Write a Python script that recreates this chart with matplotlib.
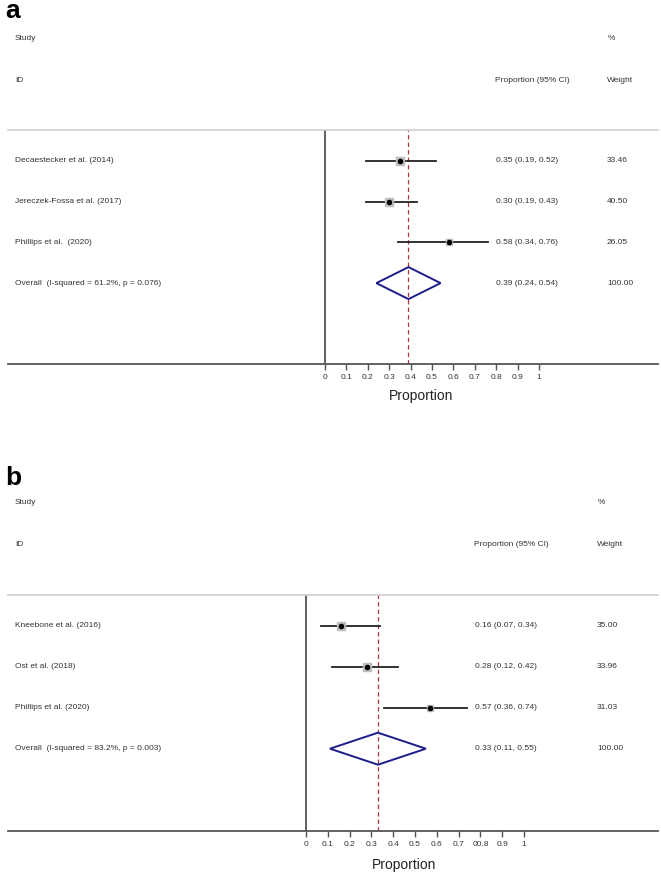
import matplotlib
matplotlib.use("Agg")
import matplotlib.pyplot as plt
from matplotlib.transforms import blended_transform_factory
from matplotlib.patches import Polygon

plt.rcParams['font.family'] = ['Liberation Sans', 'DejaVu Sans']

# ---- data ----
studies_a = ["Decaestecker et al. (2014)", "Jereczek-Fossa et al. (2017)", "Phillips et al.  (2020)"]
est_a = [0.35, 0.30, 0.58]
lo_a = [0.19, 0.19, 0.34]
hi_a = [0.52, 0.43, 0.76]
w_a = [33.46, 40.50, 26.05]
overall_label_a = "Overall  (I-squared = 61.2%, p = 0.076)"
overall_a = (0.39, 0.24, 0.54)

studies_b = ["Kneebone et al. (2016)", "Ost et al. (2018)", "Phillips et al. (2020)"]
est_b = [0.16, 0.28, 0.57]
lo_b = [0.07, 0.12, 0.36]
hi_b = [0.34, 0.42, 0.74]
w_b = [35.00, 33.96, 31.03]
overall_label_b = "Overall  (I-squared = 83.2%, p = 0.003)"
overall_b = (0.33, 0.11, 0.55)

ticks = [0, 0.1, 0.2, 0.3, 0.4, 0.5, 0.6, 0.7, 0.8, 0.9, 1]
ticklabels_a = ["0", "0.1", "0.2", "0.3", "0.4", "0.5", "0.6", "0.7", "0.8", "0.9", "1"]
ticklabels_b = ["0", "0.1", "0.2", "0.3", "0.4", "0.5", "0.6", "0.7", "00.8", "0.9", "1"]

W, H = 661, 875
fig = plt.figure(figsize=(W / 100, H / 100), dpi=100)

TXT = '#333333'
FS = 6.0


def fx(x):
    return x / W


def fy(y):
    return 1 - y / H


def panel(letter, letter_base, top_y, bot_y, zero_px, one_px, row0_px, row_sp,
          studies, est, lo, hi, w, overall_label, overall, ticklabels,
          head_y1, head_y2, pct_x, prop_x, wt_x, val_x, wval_x, xlabel_y):
    left_px, right_px = 8, 658
    ax = fig.add_axes([fx(left_px), fy(bot_y), (right_px - left_px) / W, (bot_y - top_y) / H])
    scale = one_px - zero_px
    ax.set_xlim((left_px - zero_px) / scale, (right_px - zero_px) / scale)
    ax.set_ylim((bot_y - row0_px) / row_sp, (top_y - row0_px) / row_sp)

    for s in ['left', 'right']:
        ax.spines[s].set_visible(False)
    ax.spines['top'].set_color('#cfcfcf')
    ax.spines['top'].set_linewidth(1.2)
    ax.spines['bottom'].set_color('#555555')
    ax.spines['bottom'].set_linewidth(1.3)
    ax.set_yticks([])
    ax.set_xticks(ticks)
    ax.set_xticklabels(ticklabels)
    ax.tick_params(axis='x', direction='out', length=4.5, width=1.0, color='#555555',
                   labelsize=FS, labelcolor=TXT, pad=3)

    ax.axvline(0, color='#444444', lw=1.2, zorder=1)
    pooled, plo, phi = overall
    ax.axvline(pooled, color='#b5323f', lw=0.9, ls=(0, (3.5, 2.5)), zorder=2)

    n = len(studies)
    for i in range(n):
        ax.plot([lo[i], hi[i]], [i, i], color='#222222', lw=1.3, zorder=3)
        ax.plot(est[i], i, marker='s', ms=0.9 * w[i] ** 0.5, color='#bdbdbd',
                mec='#bdbdbd', zorder=4)
        ax.plot(est[i], i, marker='o', ms=3.0, color='black', zorder=5)

    dh = 16 / row_sp
    diamond = Polygon([[plo, n], [pooled, n - dh], [phi, n], [pooled, n + dh]],
                      closed=True, fill=False, edgecolor='#1d1d8a', lw=1.4, zorder=4)
    ax.add_patch(diamond)

    tr = blended_transform_factory(fig.transFigure, ax.transData)
    labels = list(studies) + [overall_label]
    vals = [f"{est[i]:.2f} ({lo[i]:.2f}, {hi[i]:.2f})" for i in range(n)]
    vals.append(f"{pooled:.2f} ({plo:.2f}, {phi:.2f})")
    wts = [f"{x:.2f}" for x in w] + ["100.00"]
    for i, (lab, v, wt) in enumerate(zip(labels, vals, wts)):
        ax.text(fx(15), i, lab, transform=tr, fontsize=FS, color=TXT, va='center', ha='left')
        ax.text(fx(val_x), i, v, transform=tr, fontsize=FS, color=TXT, va='center', ha='left')
        ax.text(fx(wval_x), i, wt, transform=tr, fontsize=FS, color=TXT, va='center', ha='left')

    # headers
    fig.text(fx(15), fy(head_y1), "Study", fontsize=FS, color=TXT, va='center')
    fig.text(fx(15), fy(head_y2), "ID", fontsize=FS, color=TXT, va='center')
    fig.text(fx(pct_x), fy(head_y1), "%", fontsize=FS, color=TXT, va='center')
    fig.text(fx(prop_x), fy(head_y2), "Proportion (95% CI)", fontsize=FS, color=TXT, va='center')
    fig.text(fx(wt_x), fy(head_y2), "Weight", fontsize=FS, color=TXT, va='center')
    fig.text(fx(5), fy(letter_base), letter, fontsize=19, fontweight='bold', color='black',
             va='baseline', ha='left')

    trx = blended_transform_factory(ax.transData, fig.transFigure)
    ax.text(0.45, fy(xlabel_y), "Proportion", transform=trx, fontsize=10, color='#222222',
            ha='center', va='center')
    return ax


panel("a", 18, 130, 364, 325, 539, 160.7, 40.8,
      studies_a, est_a, lo_a, hi_a, w_a, overall_label_a, overall_a, ticklabels_a,
      38, 80, 608, 495, 607, 496, 607, 396)

panel("b", 485, 595, 830.7, 306, 524, 625.7, 41.0,
      studies_b, est_b, lo_b, hi_b, w_b, overall_label_b, overall_b, ticklabels_b,
      503, 545, 598, 474, 597, 475, 597, 865)

fig.savefig("out.png", dpi=100)
